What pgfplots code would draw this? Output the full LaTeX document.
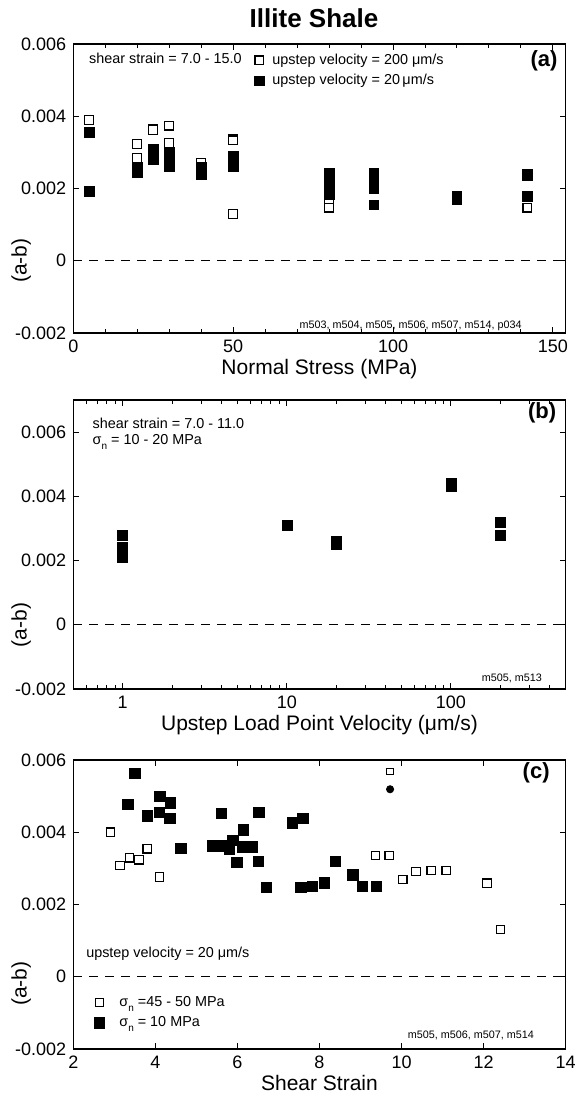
\documentclass[border=0pt]{standalone}
\usepackage{fontspec}
\setmainfont{Liberation Sans}
\usepackage{pgfplots}
\pgfplotsset{compat=1.18}
\newcommand{\sn}{σ\raisebox{-0.65ex}{\fontsize{5}{5}\selectfont n}}
\tikzset{
  note/.style={font=\fontsize{7.2}{8.6}\selectfont},
  ids/.style={anchor=east, font=\fontsize{5.4}{6}\selectfont},
  plab/.style={font=\bfseries\fontsize{11}{13}\selectfont},
}
\pgfplotsset{
  panel/.style={
    scale only axis, width=246.2pt, height=144.5pt,
    axis line style={line width=0.6pt, black},
    every tick/.style={black, line width=0.5pt},
    major tick length=3pt, minor tick length=1.8pt,
    tick align=inside,
    ticklabel style={font=\fontsize{9}{10}\selectfont},
    /pgf/number format/assume math mode=true,
    label style={font=\fontsize{10.5}{12}\selectfont},
    xlabel style={yshift=3.5pt},
    ytick={-0.002,0,0.002,0.004,0.006},
    yticklabel style={/pgf/number format/fixed, /pgf/number format/precision=3},
    scaled y ticks=false,
    ylabel={(a-b)},
    clip=false,
    legend cell align=left,
  },
  op/.style={only marks, mark=square*, mark options={fill=white, draw=black, line width=0.6pt}, mark size=2.2pt},
  fi/.style={only marks, mark=square*, mark options={fill=black, draw=black, line width=0.3pt}, mark size=2.4pt},
  limA/.style={legend image code/.code={\path[draw=none,fill=none] (0pt,0pt) (8pt,0pt); \draw[##1] plot coordinates {(3pt,0pt)};}},
  limC/.style={legend image code/.code={\path[draw=none,fill=none] (0pt,0pt) (11.5pt,0pt); \draw[##1] plot coordinates {(3pt,0pt)};}},
  zline/.style={black, line width=0.5pt, dash pattern=on 4.5pt off 3.5pt, forget plot},
}
\begin{document}
\begin{tikzpicture}
\useasboundingbox (0,0) rectangle (293.5pt,547pt);
\node[font=\bfseries\fontsize{13}{15}\selectfont] at (157pt,537.7pt) {Illite Shale};

% ---------------- (a)
\begin{axis}[panel, at={(36.65pt,525pt)}, anchor=north west,
  xmin=0, xmax=154, ymin=-0.002, ymax=0.006,
  xtick={0,50,100,150}, minor x tick num=4,
  xlabel={Normal Stress (MPa)},
  ylabel style={at={(axis description cs:-0.106,0.25)}, anchor=center},
  legend style={draw=none, fill=none, at={(axis description cs:0.365,0.978)}, anchor=north west,
    font=\fontsize{7.2}{8.6}\selectfont, row sep=0.5pt, inner sep=0pt, nodes={inner sep=1.5pt}},
]
\addplot[zline] coordinates {(0,0) (154,0)};
\addplot[op, limA] coordinates {
(5,0.0039) (20,0.00323) (20,0.00285) (25,0.00366) (25,0.00362)
(30,0.00374) (30,0.00326) (40,0.00270) (50,0.00336) (50,0.00333)
(50,0.0013) (80,0.0016) (80,0.00147) (142,0.00147)
};
\addlegendentry{upstep velocity = 200 μm/s}
\addplot[fi, limA] coordinates {
(5,0.00356) (5,0.00192)
(20,0.0026) (20,0.00245)
(25,0.0031) (25,0.0028)
(30,0.0030) (30,0.0028) (30,0.0027) (30,0.0026)
(40,0.0026) (40,0.0025) (40,0.0024)
(50,0.0029) (50,0.0028) (50,0.0027) (50,0.0026)
(80,0.00243) (80,0.0023) (80,0.0021) (80,0.0019) (80,0.00182)
(94,0.00243) (94,0.0023) (94,0.0022) (94,0.0020)
(94,0.00155)
(120,0.00178) (120,0.0017)
(142,0.0024) (142,0.00235) (142,0.00178)
};
\addlegendentry{upstep velocity = 20\,μm/s}
\node[note, anchor=west] at (axis description cs:0.018,0.949) {shear strain = 7.0 - 15.0};
\node[plab] at (axis description cs:0.956,0.941) {(a)};
\node[ids] at (axis description cs:0.925,0.026) {m503, m504, m505, m506, m507, m514, p034};
\end{axis}

% ---------------- (b)
\begin{axis}[panel, at={(36.65pt,347pt)}, anchor=north west,
  xmode=log, xmin=0.5, xmax=500, ymin=-0.002, ymax=0.007,
  xtick={1,10,100}, xticklabels={1,10,100},
  minor xtick={0.6,0.7,0.8,0.9,2,3,4,5,6,7,8,9,20,30,40,50,60,70,80,90,200,300,400,500},
  xlabel={Upstep Load Point Velocity (μm/s)},
  ylabel style={at={(axis description cs:-0.106,0.222)}, anchor=center},
]
\addplot[zline] coordinates {(0.5,0) (500,0)};
\addplot[fi, mark size=2.5pt] coordinates {
(1,0.0028) (1,0.0024) (1,0.0023) (1,0.0021)
(10,0.0031)
(20,0.0026) (20,0.0025)
(100,0.0044) (100,0.0043)
(200,0.0032) (200,0.0028)
};
\node[note, anchor=west] at (axis description cs:0.025,0.92) {shear strain = 7.0 - 11.0};
\node[note, anchor=west] at (axis description cs:0.025,0.856) {\sn{} = 10 - 20 MPa};
\node[plab] at (axis description cs:0.952,0.955) {(b)};
\node[ids] at (axis description cs:0.966,0.036) {m505, m513};
\end{axis}

% ---------------- (c)
\begin{axis}[panel, at={(36.65pt,167pt)}, anchor=north west,
  xmin=2, xmax=14, ymin=-0.002, ymax=0.006,
  xtick={2,4,6,8,10,12,14},
  xlabel={Shear Strain},
  ylabel style={at={(axis description cs:-0.106,0.226)}, anchor=center},
  legend style={draw=none, fill=none, at={(axis description cs:0.04,0.195)}, anchor=north west,
    font=\fontsize{7.2}{8.6}\selectfont, row sep=0.5pt, inner sep=0pt, nodes={inner sep=1.5pt}},
]
\addplot[zline] coordinates {(2,0) (14,0)};
\addplot[op, mark size=2.1pt, limC] coordinates {
(2.91,0.0040) (3.14,0.00308) (3.37,0.00329) (3.60,0.00324) (3.80,0.00354) (4.10,0.00276)
(9.36,0.00336) (9.70,0.00336) (10.03,0.00269) (10.35,0.00291) (10.72,0.00294) (11.09,0.00294)
(12.08,0.00259) (12.41,0.00131)
};
\addlegendentry{\sn{} =45 - 50 MPa}
\addplot[fi, mark size=2.6pt, limC] coordinates {
(3.50,0.00564) (3.33,0.00477) (3.80,0.00446) (4.11,0.00500) (4.09,0.00455)
(4.36,0.00481) (4.35,0.00438) (4.62,0.00355) (5.40,0.00363) (5.60,0.00452)
(5.62,0.00363) (5.80,0.00354) (5.89,0.00377) (5.98,0.00317) (6.13,0.00360)
(6.15,0.00407) (6.35,0.00360) (6.51,0.00320) (6.52,0.00455) (6.70,0.00247)
(7.33,0.00426) (7.54,0.00247) (7.59,0.00439) (7.82,0.00251) (8.12,0.00260)
(8.38,0.00319) (8.81,0.00282) (9.04,0.00250) (9.38,0.00250)
};
\addlegendentry{\sn{} = 10 MPa}
\addplot[op, mark size=1.6pt, forget plot] coordinates {(9.72,0.00568)};
\addplot[only marks, mark=*, mark size=1.8pt, fill=black, forget plot] coordinates {(9.72,0.00519)};
\node[note, anchor=west] at (axis description cs:0.012,0.329) {upstep velocity = 20 μm/s};
\node[plab] at (axis description cs:0.94,0.955) {(c)};
\node[ids] at (axis description cs:0.95,0.048) {m505, m506, m507, m514};
\end{axis}
\end{tikzpicture}
\end{document}
